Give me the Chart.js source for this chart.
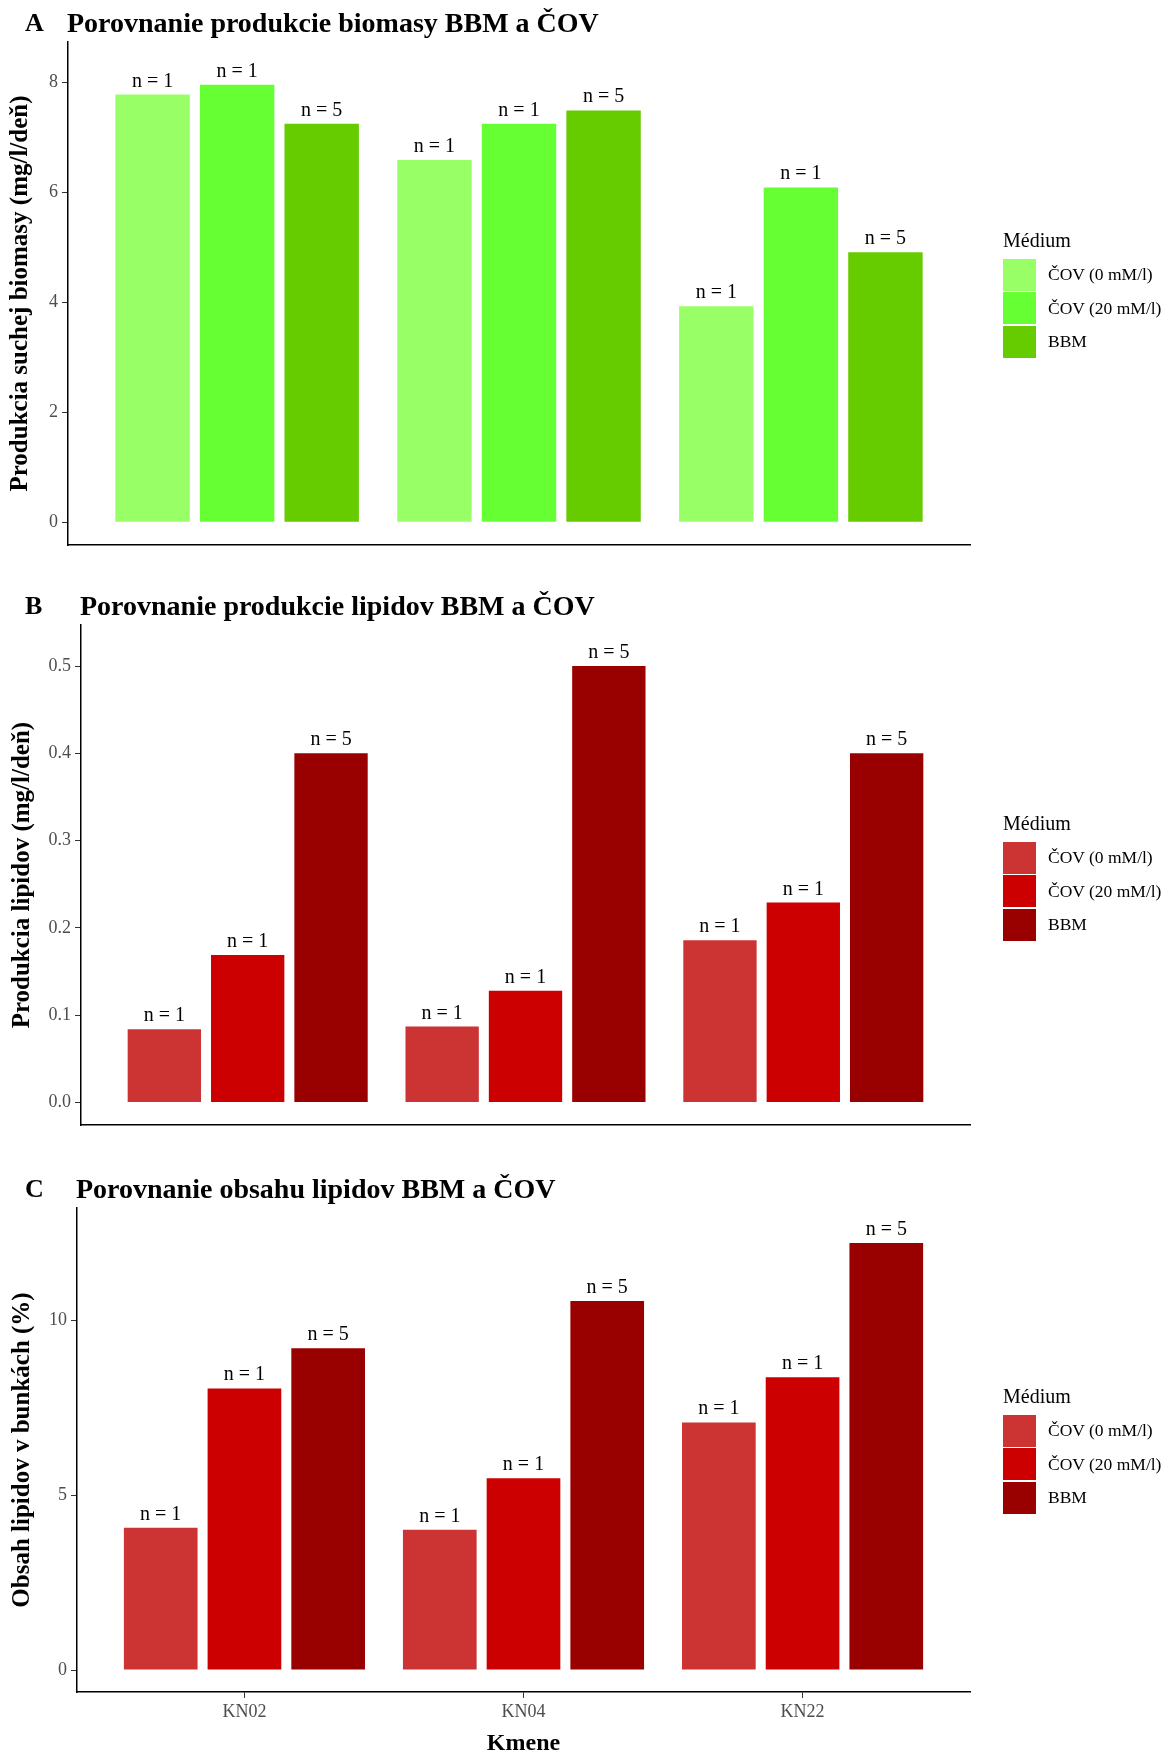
<!DOCTYPE html>
<html>
<head>
<meta charset="utf-8">
<script src="https://cdn.jsdelivr.net/npm/chart.js@4.4.0/dist/chart.umd.min.js"></script>
<style>
	body { margin: 0; background: #fff; font-family: 'Liberation Serif', serif; }
	#page { position: relative; width: 1171px; height: 1757px; overflow: hidden; }
	canvas { position: absolute; left: 0; }
	.tag, .title { position: absolute; font-weight: bold; line-height: 1; white-space: nowrap; color: #000; }
	.title { font-size: 28px; }
	.tag { font-size: 26px; left: 25px; }
	.legend { position: absolute; left: 1003px; font-size: 17.5px; color: #000; }
	.legend .head { font-size: 20px; height: 24px; line-height: 24px; margin-bottom: 6px; }
	.legend .row { height: 33.5px; display: flex; align-items: center; }
	.legend .sw { width: 33px; height: 32px; margin-right: 12px; }
</style>
</head>
<body>
<div id="page">
	<canvas id="chartA" width="1171" height="560" style="top:0px"></canvas>
	<canvas id="chartB" width="1171" height="580" style="top:560px"></canvas>
	<canvas id="chartC" width="1171" height="617" style="top:1140px"></canvas>

	<div class="tag" style="top:10px">A</div>
	<div class="title" style="top:9px;left:67px">Porovnanie produkcie biomasy BBM a ČOV</div>
	<div class="tag" style="top:593px">B</div>
	<div class="title" style="top:592px;left:80px">Porovnanie produkcie lipidov BBM a ČOV</div>
	<div class="tag" style="top:1176px">C</div>
	<div class="title" style="top:1175px;left:76px">Porovnanie obsahu lipidov BBM a ČOV</div>

	<div class="legend" id="legendA" style="top:228px"></div>
	<div class="legend" id="legendB" style="top:811px"></div>
	<div class="legend" id="legendC" style="top:1384px"></div>
</div>

<script>
var strains = ['KN02', 'KN04', 'KN22'];
var media = ['ČOV (0 mM/l)', 'ČOV (20 mM/l)', 'BBM'];
var nCounts = [1, 1, 5];

// A - biomasa (mg/l/deň)
var biomass0 = [7.78, 6.59, 3.93];
var biomass20 = [7.96, 7.25, 6.09];
var biomassBBM = [7.25, 7.49, 4.91];

// B - produkcia lipidov (mg/l/deň)
var lipProd0 = [0.084, 0.087, 0.186];
var lipProd20 = [0.169, 0.128, 0.229];
var lipProdBBM = [0.40, 0.50, 0.40];

// C - obsah lipidov (%)
var lipCont0 = [4.07, 4.01, 7.08];
var lipCont20 = [8.05, 5.48, 8.37];
var lipContBBM = [9.20, 10.55, 12.21];

var ticksA = [0, 2, 4, 6, 8];
var ticksB = [0, 0.1, 0.2, 0.3, 0.4, 0.5];
var ticksC = [0, 5, 10];

var greens = ['#99FF66', '#66FF33', '#66CC00'];
var reds = ['#CC3333', '#CC0000', '#990000'];

var serif = 'Liberation Serif';

// "n = x" nad kazdym stlpcom
var nLabels = {
	id: 'nLabels',
	afterDatasetsDraw(chart) {
		var ctx = chart.ctx;
		ctx.save();
		ctx.font = '20px "' + serif + '"';
		ctx.fillStyle = '#000';
		ctx.textAlign = 'center';
		ctx.textBaseline = 'alphabetic';
		chart.data.datasets.forEach((ds, i) => {
			chart.getDatasetMeta(i).data.forEach(bar => {
				ctx.fillText('n = ' + nCounts[i], bar.x, bar.y - 8);
			});
		});
		ctx.restore();
	}
};

function makeChart(id, o) {
	return new Chart(document.getElementById(id), {
		type: 'bar',
		data: {
			labels: strains,
			datasets: o.series.map((s, i) => ({
				label: media[i],
				data: s,
				backgroundColor: o.colors[i],
				borderWidth: 0,
				categoryPercentage: 0.9,
				barPercentage: 0.88
			}))
		},
		options: {
			responsive: false,
			animation: false,
			devicePixelRatio: 1,
			layout: {padding: {left: 0, right: 201, top: o.top, bottom: o.bottom}},
			plugins: {legend: {display: false}, tooltip: {enabled: false}},
			scales: {
				x: {
					offset: false,
					grid: {display: o.showX, drawOnChartArea: false, offset: false, tickLength: 6, color: '#333'},
					border: {display: true, color: '#000', width: 1.5},
					ticks: {display: o.showX, color: '#4D4D4D', font: {family: serif, size: 18}, padding: 3, maxRotation: 0},
					title: {
						display: o.showX, text: 'Kmene', color: '#000',
						font: {family: serif, size: 24, weight: 'bold', lineHeight: 1},
						padding: {top: 0, bottom: 1}
					},
					// ggplot: 0.6 jednotky volneho miesta na oboch koncoch
					afterBuildTicks: s => { s._startValue = -0.6; s._valueRange = 3.2; },
					afterFit: s => { s.height = o.xHeight; }
				},
				y: {
					min: o.min,
					max: o.max,
					grid: {drawOnChartArea: false, tickLength: 6, color: '#333'},
					border: {display: true, color: '#000', width: 1.5},
					ticks: {
						color: '#4D4D4D', font: {family: serif, size: 18}, padding: 4,
						callback: v => o.fmt(v)
					},
					title: {
						display: true, text: o.yTitle, color: '#000',
						font: {family: serif, size: 25, weight: 'bold', lineHeight: 1.2},
						padding: {top: o.titlePad, bottom: 0}
					},
					afterBuildTicks: s => { s.ticks = o.ticks.map(v => ({value: v})); },
					afterFit: s => { s.width = o.yWidth; }
				}
			}
		},
		plugins: [nLabels]
	});
}

function makeLegend(id, colors) {
	var el = document.getElementById(id);
	var html = '<div class="head">Médium</div>';
	media.forEach((m, i) => {
		html += '<div class="row"><span class="sw" style="background:' + colors[i] + '"></span><span>' + m + '</span></div>';
	});
	el.innerHTML = html;
}

makeChart('chartA', {
	series: [biomass0, biomass20, biomassBBM], colors: greens,
	min: -0.416, max: 8.736, ticks: ticksA, fmt: v => String(v),
	yTitle: 'Produkcia suchej biomasy (mg/l/deň)', titlePad: 6,
	top: 42, bottom: 15, yWidth: 68, xHeight: 0, showX: false
});

makeChart('chartB', {
	series: [lipProd0, lipProd20, lipProdBBM], colors: reds,
	min: -0.026, max: 0.547, ticks: ticksB, fmt: v => v.toFixed(1),
	yTitle: 'Produkcia lipidov (mg/l/deň)', titlePad: 8,
	top: 65, bottom: 12, yWidth: 81, xHeight: 0, showX: false
});

makeChart('chartC', {
	series: [lipCont0, lipCont20, lipContBBM], colors: reds,
	min: -0.629, max: 13.21, ticks: ticksC, fmt: v => String(v),
	yTitle: 'Obsah lipidov v bunkách (%)', titlePad: 8,
	top: 68, bottom: 0, yWidth: 77, xHeight: 65, showX: true
});

makeLegend('legendA', greens);
makeLegend('legendB', reds);
makeLegend('legendC', reds);
</script>
</body>
</html>
